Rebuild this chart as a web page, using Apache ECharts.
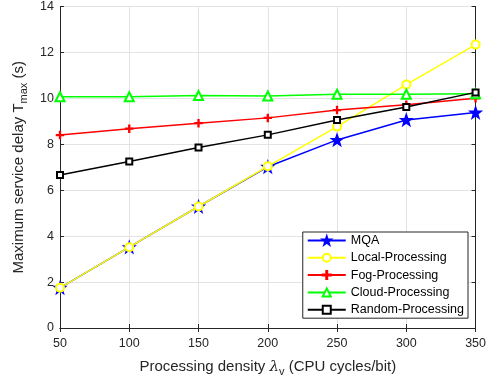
<!DOCTYPE html>
<html>
<head>
<meta charset="utf-8">
<script src="https://cdn.jsdelivr.net/npm/echarts@6/dist/echarts.min.js"></script>
<style>
  html, body { margin: 0; padding: 0; background: #fff; }
  #chart { width: 489px; height: 382px; }
</style>
</head>
<body>
<div id="chart"></div>
<script>
var densities = ['50', '100', '150', '200', '250', '300', '350'];
var mqa = [1.75, 3.52, 5.29, 7.02, 8.19, 9.06, 9.38];
var localProc = [1.75, 3.52, 5.29, 7.04, 8.77, 10.6, 12.34];
var fogProc = [8.4, 8.68, 8.92, 9.15, 9.49, 9.72, 10.0];
var cloudProc = [10.07, 10.07, 10.12, 10.1, 10.18, 10.18, 10.2];
var randomProc = [6.66, 7.25, 7.86, 8.41, 9.06, 9.62, 10.26];
var yTicks = [0, 2, 4, 6, 8, 10, 12, 14];

var starPath = 'path://M0,-10 L2.35,-3.24 L9.51,-3.09 L3.8,1.24 L5.88,8.09 L0,4 L-5.88,8.09 L-3.8,1.24 L-9.51,-3.09 L-2.35,-3.24 Z';
var plusPath = 'path://M-1.2,-10 L1.2,-10 L1.2,-1.2 L10,-1.2 L10,1.2 L1.2,1.2 L1.2,10 L-1.2,10 L-1.2,1.2 L-10,1.2 L-10,-1.2 L-1.2,-1.2 Z';

var font = 'Liberation Sans, Arial, sans-serif';
var textColor = '#262626';

function mkSeries(name, data, color, symbol, size) {
    return {
        name: name,
        type: 'line',
        data: data,
        symbol: symbol,
        symbolSize: size,
        showAllSymbol: true,
        lineStyle: { color: color, width: 1.5 },
        itemStyle: { color: color, borderColor: color, borderWidth: 1.5 },
        emphasis: { disabled: true },
        animation: false
    };
}

var chart = echarts.init(document.getElementById('chart'));
var option = {
    animation: false,
    grid: { left: 60, right: 12, top: 5, bottom: 54 },
    legend: {
        orient: 'vertical',
        right: 21,
        top: 232,
        backgroundColor: '#fff',
        borderColor: '#262626',
        borderWidth: 1,
        padding: [2, 4, 2, 4],
        itemWidth: 38,
        itemHeight: 10,
        itemGap: 4.3,
        textStyle: { fontFamily: font, fontSize: 12.5, color: '#000' },
        data: ['MQA', 'Local-Processing', 'Fog-Processing', 'Cloud-Processing', 'Random-Processing']
    },
    xAxis: [{
        type: 'category',
        data: densities,
        boundaryGap: false,
        name: 'Processing density {lam|λ}{sub|v} (CPU cycles/bit)',
        nameLocation: 'middle',
        nameGap: 29,
        nameTextStyle: {
            fontFamily: font, fontSize: 15, color: textColor,
            rich: {
                lam: { fontFamily: 'DejaVu Serif', fontStyle: 'italic', fontSize: 15, color: textColor },
                sub: { fontSize: 11, color: textColor, verticalAlign: 'bottom', padding: [9, 0, 0, 0] }
            }
        },
        axisLine: { lineStyle: { color: textColor, width: 1 } },
        axisTick: { inside: true, length: 4, lineStyle: { color: textColor } },
        axisLabel: { fontFamily: font, fontSize: 12.5, color: textColor, margin: 9 },
        splitLine: { show: true, lineStyle: { color: '#e3e3e3', width: 1 } }
    }, {
        type: 'category',
        data: densities,
        boundaryGap: false,
        position: 'top',
        axisLine: { lineStyle: { color: textColor, width: 1 } },
        axisTick: { inside: true, length: 4, lineStyle: { color: textColor } },
        axisLabel: { show: false },
        splitLine: { show: false }
    }],
    yAxis: [{
        type: 'value',
        min: yTicks[0],
        max: yTicks[yTicks.length - 1],
        interval: 2,
        name: 'Maximum service delay T{sub|max} (s)',
        nameLocation: 'middle',
        nameGap: 31,
        nameTextStyle: {
            fontFamily: font, fontSize: 15, color: textColor,
            rich: {
                sub: { fontSize: 11, color: textColor, verticalAlign: 'bottom', padding: [9, 0, 0, 0] }
            }
        },
        axisLine: { show: true, lineStyle: { color: textColor, width: 1 } },
        axisTick: { show: true, inside: true, length: 4, lineStyle: { color: textColor } },
        axisLabel: { fontFamily: font, fontSize: 12.5, color: textColor, margin: 6 },
        splitLine: { show: true, lineStyle: { color: '#e3e3e3', width: 1 } }
    }, {
        type: 'value',
        min: yTicks[0],
        max: yTicks[yTicks.length - 1],
        interval: 2,
        position: 'right',
        axisLine: { show: true, lineStyle: { color: textColor, width: 1 } },
        axisTick: { show: true, inside: true, length: 4, lineStyle: { color: textColor } },
        axisLabel: { show: false },
        splitLine: { show: false }
    }],
    series: [
        mkSeries('MQA', mqa, '#0000ff', starPath, 11),
        mkSeries('Local-Processing', localProc, '#ffff00', 'emptyCircle', 8),
        mkSeries('Fog-Processing', fogProc, '#ff0000', plusPath, 7),
        mkSeries('Cloud-Processing', cloudProc, '#00ff00', 'emptyTriangle', 9),
        mkSeries('Random-Processing', randomProc, '#000000', 'emptyRect', 6)
    ]
};
chart.setOption(option);
</script>
</body>
</html>
